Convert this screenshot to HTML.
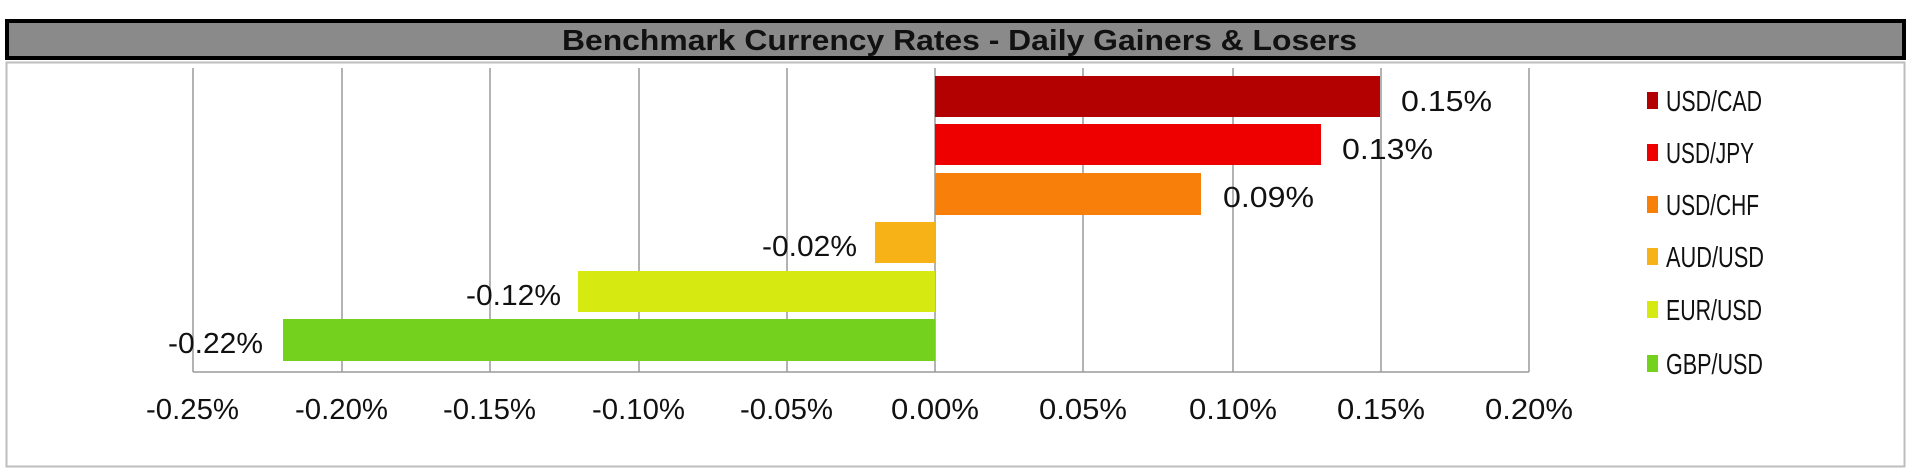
<!DOCTYPE html>
<html><head><meta charset="utf-8"><style>
html,body{margin:0;padding:0;background:#fff;}
svg{display:block;}
text{font-family:"Liberation Sans",sans-serif;}
</style></head><body>
<svg width="1911" height="471" viewBox="0 0 1911 471" xmlns="http://www.w3.org/2000/svg">
<rect x="0" y="0" width="1911" height="471" fill="#fff"/>
<rect x="6.5" y="62.5" width="1898" height="404" fill="#fff" stroke="#bdbdbd" stroke-width="2"/>
<rect x="7" y="21" width="1897" height="37" fill="#8a8a8a" stroke="#000" stroke-width="4"/>
<text x="562" y="50" font-size="29" font-weight="bold" fill="#111" textLength="795" lengthAdjust="spacingAndGlyphs">Benchmark Currency Rates - Daily Gainers &amp; Losers</text>
<g stroke="#9a9a9a" stroke-width="1.5">
<line x1="193" y1="68" x2="193" y2="372"/>
<line x1="342" y1="68" x2="342" y2="372"/>
<line x1="490" y1="68" x2="490" y2="372"/>
<line x1="639" y1="68" x2="639" y2="372"/>
<line x1="787" y1="68" x2="787" y2="372"/>
<line x1="935" y1="68" x2="935" y2="372"/>
<line x1="1083" y1="68" x2="1083" y2="372"/>
<line x1="1233" y1="68" x2="1233" y2="372"/>
<line x1="1381" y1="68" x2="1381" y2="372"/>
<line x1="1529" y1="68" x2="1529" y2="372"/>
<line x1="193" y1="372" x2="1529" y2="372"/>
</g>
<g>
<rect x="935" y="76" width="445" height="41" fill="#b30000"/>
<rect x="935" y="124" width="386" height="41" fill="#ee0000"/>
<rect x="935" y="173" width="266" height="42" fill="#f87f0a"/>
<rect x="875" y="222" width="60" height="41" fill="#f7b217"/>
<rect x="578" y="271" width="357" height="41" fill="#d6ea12"/>
<rect x="283" y="319" width="652" height="42" fill="#74d21f"/>
</g>
<g font-size="29" fill="#111" lengthAdjust="spacingAndGlyphs">
<text x="1401" y="111" textLength="91" lengthAdjust="spacingAndGlyphs">0.15%</text>
<text x="1342" y="159" textLength="91" lengthAdjust="spacingAndGlyphs">0.13%</text>
<text x="1223" y="207" textLength="91" lengthAdjust="spacingAndGlyphs">0.09%</text>
<text x="762" y="256" textLength="95" lengthAdjust="spacingAndGlyphs">-0.02%</text>
<text x="466" y="305" textLength="95" lengthAdjust="spacingAndGlyphs">-0.12%</text>
<text x="168" y="353" textLength="95" lengthAdjust="spacingAndGlyphs">-0.22%</text>
</g>
<g font-size="29" fill="#111">
<text x="146" y="419" textLength="93" lengthAdjust="spacingAndGlyphs">-0.25%</text>
<text x="295" y="419" textLength="93" lengthAdjust="spacingAndGlyphs">-0.20%</text>
<text x="443" y="419" textLength="93" lengthAdjust="spacingAndGlyphs">-0.15%</text>
<text x="592" y="419" textLength="93" lengthAdjust="spacingAndGlyphs">-0.10%</text>
<text x="740" y="419" textLength="93" lengthAdjust="spacingAndGlyphs">-0.05%</text>
<text x="891" y="419" textLength="88" lengthAdjust="spacingAndGlyphs">0.00%</text>
<text x="1039" y="419" textLength="88" lengthAdjust="spacingAndGlyphs">0.05%</text>
<text x="1189" y="419" textLength="88" lengthAdjust="spacingAndGlyphs">0.10%</text>
<text x="1337" y="419" textLength="88" lengthAdjust="spacingAndGlyphs">0.15%</text>
<text x="1485" y="419" textLength="88" lengthAdjust="spacingAndGlyphs">0.20%</text>
</g>
<g font-size="29" fill="#111">
<rect x="1647" y="92" width="11" height="17" fill="#b30000"/><text x="1666" y="111" textLength="96" lengthAdjust="spacingAndGlyphs">USD/CAD</text>
<rect x="1647" y="144" width="11" height="17" fill="#ee0000"/><text x="1666" y="163" textLength="88" lengthAdjust="spacingAndGlyphs">USD/JPY</text>
<rect x="1647" y="196" width="11" height="17" fill="#f87f0a"/><text x="1666" y="215" textLength="93" lengthAdjust="spacingAndGlyphs">USD/CHF</text>
<rect x="1647" y="248" width="11" height="17" fill="#f7b217"/><text x="1666" y="267" textLength="98" lengthAdjust="spacingAndGlyphs">AUD/USD</text>
<rect x="1647" y="301" width="11" height="17" fill="#d6ea12"/><text x="1666" y="320" textLength="96" lengthAdjust="spacingAndGlyphs">EUR/USD</text>
<rect x="1647" y="355" width="11" height="17" fill="#74d21f"/><text x="1666" y="374" textLength="97" lengthAdjust="spacingAndGlyphs">GBP/USD</text>
</g>
</svg>
</body></html>
